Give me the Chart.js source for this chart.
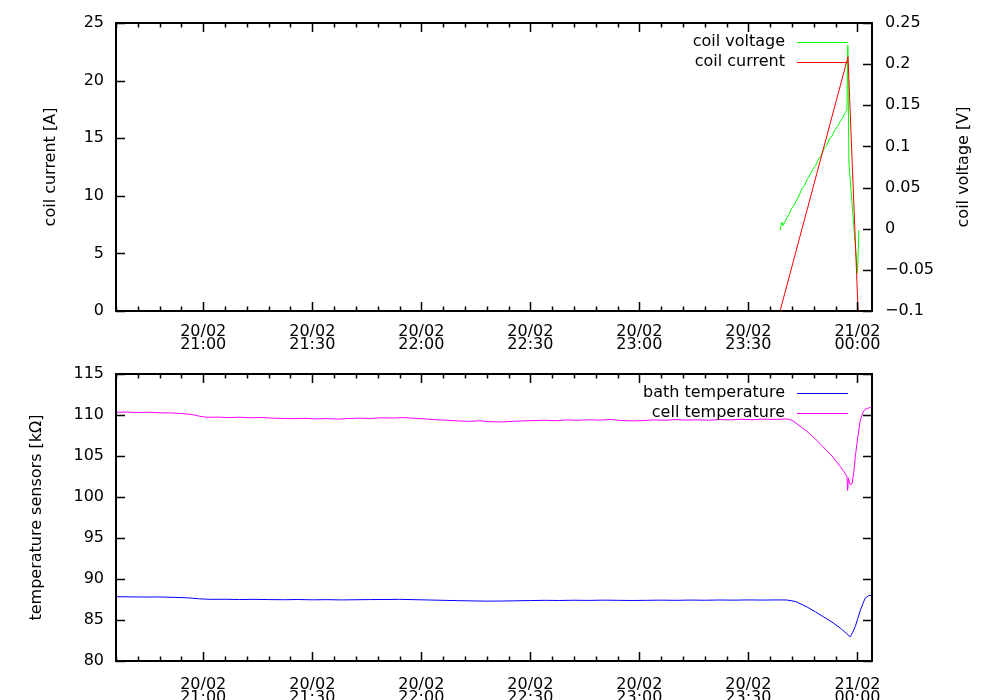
<!DOCTYPE html>
<html><head><meta charset="utf-8">
<script src="https://cdn.jsdelivr.net/npm/chart.js@4"></script>
<style>
html,body{margin:0;padding:0;background:#fff;overflow:hidden;width:1000px;height:700px}
.box{position:absolute;left:0;width:1000px}
#b1{top:0;height:360px}
#b2{top:351px;height:360px}
canvas{display:block}
</style></head><body>
<div class="box" id="b1"><canvas id="c1" width="1000" height="360"></canvas></div>
<div class="box" id="b2"><canvas id="c2" width="1000" height="360"></canvas></div>
<script>
// time axis: minutes after 20/02 20:00
const xMin = 36, xMax = 244;
const xTickValues = [60, 90, 120, 150, 180, 210, 240];
const xTickLabels = [['20/02','21:00'],['20/02','21:30'],['20/02','22:00'],['20/02','22:30'],['20/02','23:00'],['20/02','23:30'],['21/02','00:00']];
const xMinorStep = 6;

const currentTicks = [0, 5, 10, 15, 20, 25];
const voltageTicks = [-0.1, -0.05, 0, 0.05, 0.1, 0.15, 0.2, 0.25];
const tempTicks = [80, 85, 90, 95, 100, 105, 110, 115];

// coil current [A]
const currentTime  = [218.7, 237.4, 240.3];
const currentValue = [0, 22.07, -1.0];

// coil voltage [V]
const voltageTime  = [218.7, 219.2, 219.5, 220.3, 221.0, 221.8, 222.5, 223.3, 224.0, 224.8, 225.5, 226.3, 227.0, 227.8, 228.5, 229.3, 230.0, 230.8, 231.5, 232.3, 233.0, 233.8, 234.5, 235.3, 236.0, 236.6, 237.1, 237.35, 237.65, 240.0, 240.4];
const voltageValue = [-0.002, 0.008, 0.004, 0.011, 0.016, 0.024, 0.028, 0.035, 0.041, 0.049, 0.053, 0.061, 0.066, 0.073, 0.077, 0.085, 0.089, 0.097, 0.101, 0.109, 0.113, 0.120, 0.124, 0.131, 0.135, 0.141, 0.144, 0.223, 0.080, -0.054, -0.002];

// bath temperature sensor [kOhm]
const bathTime  = [36, 40, 44, 48, 52, 56, 59, 62, 66, 70, 74, 78, 82, 86, 90, 94, 98, 102, 106, 110, 114, 118, 122, 126, 130, 134, 138, 142, 146, 150, 154, 158, 162, 166, 170, 174, 178, 182, 186, 190, 194, 198, 202, 206, 210, 214, 218, 220.6, 223.0, 226.1, 228.4, 230.6, 233.0, 235.3, 237.0, 238.0, 238.7, 239.4, 240.1, 240.8, 241.5, 242.1, 243.0, 244];
const bathValue = [87.84, 87.82, 87.80, 87.81, 87.76, 87.70, 87.58, 87.52, 87.53, 87.50, 87.52, 87.49, 87.47, 87.50, 87.46, 87.48, 87.45, 87.47, 87.49, 87.50, 87.52, 87.48, 87.44, 87.40, 87.36, 87.33, 87.30, 87.31, 87.34, 87.37, 87.40, 87.38, 87.41, 87.39, 87.42, 87.40, 87.38, 87.40, 87.42, 87.40, 87.43, 87.41, 87.44, 87.42, 87.45, 87.43, 87.45, 87.44, 87.25, 86.6, 86.0, 85.4, 84.75, 84.0, 83.35, 82.95, 83.5, 84.2, 85.2, 86.2, 87.0, 87.65, 87.95, 88.05];

// cell temperature sensor [kOhm]
const cellTime  = [36, 39, 42, 45, 48, 51, 54, 57, 59, 61, 64, 67, 70, 73, 76, 79, 82, 85, 88, 91, 94, 97, 100, 103, 106, 109, 112, 115, 118, 121, 124, 127, 130, 133, 136, 139, 142, 145, 148, 151, 154, 157, 160, 163, 166, 169, 172, 175, 178, 181, 184, 187, 190, 193, 196, 199, 202, 205, 208, 211, 214, 217, 220.6, 222.0, 223.1, 224.6, 226.1, 228.4, 230.6, 233.0, 235.3, 236.6, 237.1, 237.3, 237.5, 238.0, 238.5, 239.0, 239.4, 240.1, 240.8, 241.5, 242.1, 243.0, 244];
const cellValue = [110.32, 110.36, 110.30, 110.34, 110.27, 110.25, 110.18, 110.05, 109.85, 109.72, 109.74, 109.69, 109.73, 109.66, 109.70, 109.62, 109.58, 109.55, 109.60, 109.52, 109.56, 109.50, 109.57, 109.62, 109.58, 109.66, 109.63, 109.68, 109.60, 109.52, 109.42, 109.36, 109.28, 109.22, 109.30, 109.18, 109.15, 109.22, 109.28, 109.32, 109.36, 109.30, 109.40, 109.35, 109.42, 109.38, 109.45, 109.33, 109.28, 109.32, 109.40, 109.36, 109.44, 109.38, 109.42, 109.36, 109.45, 109.40, 109.48, 109.42, 109.50, 109.46, 109.52, 109.35, 109.0, 108.5, 108.0, 107.1, 106.1, 105.0, 103.7, 102.9, 102.5, 100.8, 102.3, 101.5, 101.6, 103.0, 104.9, 107.3, 109.4, 110.3, 110.7, 110.85, 110.95];

const FONT = "'DejaVu Sans', sans-serif";
Chart.defaults.font.family = FONT;
Chart.defaults.font.size = 16;
Chart.defaults.color = '#000';

function zip(t, v) { return t.map((x, i) => ({x: x, y: v[i]})); }
function fmt(v) {
  const r = Math.round(v * 100) / 100;
  return r < 0 ? '\u2212' + Math.abs(r) : String(r);
}

const framePlugin = {
  id: 'gnuFrame',
  afterDraw(chart, args, o) {
    const ctx = chart.ctx, a = chart.chartArea;
    ctx.save();
    ctx.strokeStyle = '#000';
    ctx.lineWidth = 1.5;
    const sx = chart.scales.x;
    const major = 9, minor = 4.5;
    ctx.beginPath();
    for (let v = Math.ceil(xMin / xMinorStep) * xMinorStep; v <= xMax; v += xMinorStep) {
      const p = Math.round(sx.getPixelForValue(v)) + 0.5;
      const L = xTickValues.includes(v) ? major : minor;
      ctx.moveTo(p, a.bottom); ctx.lineTo(p, a.bottom - L);
      ctx.moveTo(p, a.top); ctx.lineTo(p, a.top + L);
    }
    const sy = chart.scales.y;
    sy.ticks.forEach(t => {
      const p = Math.round(sy.getPixelForValue(t.value)) + 0.5;
      ctx.moveTo(a.left, p); ctx.lineTo(a.left + major, p);
      if (o.mirror) { ctx.moveTo(a.right, p); ctx.lineTo(a.right - major, p); }
    });
    if (chart.scales.y2) {
      const s2 = chart.scales.y2;
      s2.ticks.forEach(t => {
        const p = Math.round(s2.getPixelForValue(t.value)) + 0.5;
        ctx.moveTo(a.right, p); ctx.lineTo(a.right - major, p);
      });
    }
    ctx.stroke();
    ctx.lineWidth = 2;
    ctx.strokeRect(a.left, a.top, a.right - a.left, a.bottom - a.top);
    ctx.fillStyle = '#000';
    ctx.font = '16px ' + FONT;
    ctx.textAlign = 'center';
    ctx.textBaseline = 'middle';
    const cy = (a.top + a.bottom) / 2;
    if (o.leftTitle) {
      ctx.save(); ctx.translate(o.leftX, cy); ctx.rotate(-Math.PI / 2);
      ctx.fillText(o.leftTitle, 0, 0); ctx.restore();
    }
    if (o.rightTitle) {
      ctx.save(); ctx.translate(o.rightX, cy); ctx.rotate(-Math.PI / 2);
      ctx.fillText(o.rightTitle, 0, 0); ctx.restore();
    }
    ctx.textAlign = 'right';
    chart.data.datasets.forEach((ds, i) => {
      const y = a.top + 19 + i * 20;
      ctx.fillStyle = '#000';
      ctx.fillText(ds.label, 785, y);
      ctx.beginPath();
      ctx.strokeStyle = ds.borderColor;
      ctx.lineWidth = 1;
      ctx.moveTo(797, Math.round(y) + 0.5); ctx.lineTo(848, Math.round(y) + 0.5);
      ctx.stroke();
    });
    ctx.restore();
  }
};

function xScale(h, pad) {
  return {
    type: 'linear', min: xMin, max: xMax,
    grid: {display: false, drawTicks: false}, border: {display: false},
    afterBuildTicks: s => { s.ticks = xTickValues.map(v => ({value: v})); },
    afterFit: s => { s.height = h; },
    ticks: {
      padding: pad, maxRotation: 0, autoSkip: false,
      font: {size: 16, lineHeight: 0.82},
      callback: (v) => xTickLabels[xTickValues.indexOf(v)]
    }
  };
}
function yScale(pos, min, max, ticks, w, pad, cb) {
  return {
    type: 'linear', position: pos, min: min, max: max,
    grid: {display: false, drawTicks: false}, border: {display: false},
    afterBuildTicks: s => { s.ticks = ticks.map(v => ({value: v})); },
    afterFit: s => { s.width = w; },
    ticks: {padding: pad, autoSkip: false, font: {size: 16}, callback: cb}
  };
}
const line = (label, data, color, axis, order) => ({
  label: label, data: data, yAxisID: axis, borderColor: color, backgroundColor: color,
  borderWidth: 1, pointRadius: 0, tension: 0, fill: false, order: order
});

new Chart(document.getElementById('c1'), {
  type: 'line',
  data: {datasets: [
    line('coil voltage', zip(voltageTime, voltageValue), '#00ff00', 'y2', 1),
    line('coil current', zip(currentTime, currentValue), '#ff0000', 'y', 0)
  ]},
  options: {
    responsive: false, animation: false, events: [],
    layout: {padding: {top: 23, left: 0, right: 0, bottom: 0}},
    plugins: {legend: {display: false}, tooltip: {enabled: false},
      gnuFrame: {leftTitle: 'coil current [A]', leftX: 51, rightTitle: 'coil voltage [V]', rightX: 964, mirror: false}},
    scales: {
      x: xScale(49, 14),
      y: yScale('left', 0, 25, currentTicks, 116, 12, v => fmt(v)),
      y2: yScale('right', -0.1, 0.25, voltageTicks, 128, 13, v => fmt(v))
    }
  },
  plugins: [framePlugin]
});

new Chart(document.getElementById('c2'), {
  type: 'line',
  data: {datasets: [
    line('bath temperature', zip(bathTime, bathValue), '#0000ff', 'y', 1),
    line('cell temperature', zip(cellTime, cellValue), '#ff00ff', 'y', 0)
  ]},
  options: {
    responsive: false, animation: false, events: [],
    layout: {padding: {top: 23, left: 0, right: 128, bottom: 0}},
    plugins: {legend: {display: false}, tooltip: {enabled: false},
      gnuFrame: {leftTitle: 'temperature sensors [k\u03A9]', leftX: 37, mirror: true}},
    scales: {
      x: xScale(50, 17),
      y: yScale('left', 80, 115, tempTicks, 116, 12, v => fmt(v))
    }
  },
  plugins: [framePlugin]
});
</script>
</body></html>
